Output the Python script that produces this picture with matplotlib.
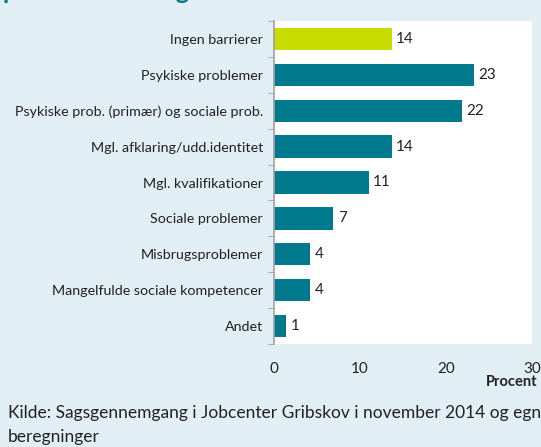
import numpy as np
import matplotlib.pyplot as plt
from matplotlib.ticker import FixedLocator, NullFormatter

# data
categories = ["Ingen barrierer", "Psykiske problemer",
              "Psykiske prob. (primær) og sociale prob.",
              "Mgl. afklaring/udd.identitet", "Mgl. kvalifikationer",
              "Sociale problemer", "Misbrugsproblemer",
              "Mangelfulde sociale kompetencer", "Andet"]
values = [13.7, 23.3, 21.9, 13.7, 11.0, 6.9, 4.2, 4.2, 1.4]
xticks = [0, 10, 20, 30]

bg = "#E1EEF3"
teal = "#007A8C"
lime = "#C8DC00"
plt.rcParams['font.family'] = ['Lato', 'DejaVu Sans']

fig = plt.figure(figsize=(5.41, 4.47), dpi=100, facecolor=bg)
ax = fig.add_axes([274/541, 103/447, 258/541, 323/447])
ax.set_facecolor("white")

y = np.arange(len(categories))
colors = [lime] + [teal]*(len(categories)-1)
ax.barh(y, values, height=0.62, color=colors)
for yi, v in zip(y, values):
    ax.text(v + 0.5, yi, f"{v:.0f}", va="center", ha="left", fontsize=11, color="#222222")

ax.set_xlim(0, 30)
ax.set_ylim(len(categories) - 0.5, -0.5)
ax.set_yticks(y)
ax.set_yticklabels(categories, fontsize=10.3)
ax.yaxis.set_minor_locator(FixedLocator(np.arange(-0.5, len(categories), 1)))
ax.yaxis.set_minor_formatter(NullFormatter())
ax.tick_params(axis="y", which="major", length=0, pad=8, colors="#222222")
ax.tick_params(axis="y", which="minor", length=4, color="#A0A0A0", direction="out")
ax.set_xticks(xticks)
ax.tick_params(axis="x", length=0, pad=13, labelsize=11, colors="#222222")
for s in ["top", "right", "bottom"]:
    ax.spines[s].set_visible(False)
ax.spines["left"].set_color("#A0A0A0")
ax.spines["left"].set_linewidth(1.2)

fig.text(537/541, 1 - 382/447, "Procent", ha="right", va="center",
         fontsize=10.5, fontweight="bold", color="#222222")
fig.text(8/541, 1 - 413/447, "Kilde: Sagsgennemgang i Jobcenter Gribskov i november 2014 og egne",
         ha="left", va="center", fontsize=12.5, color="#222222")
fig.text(8/541, 1 - 437/447, "beregninger", ha="left", va="center", fontsize=12.5, color="#222222")
# heading cut off at the top of the crop
fig.text(2/541, 1 + 1/447, "procentfordeling", ha="left", va="baseline",
         fontsize=18, fontweight="bold", color=teal)

fig.savefig("out.png", dpi=100, facecolor=bg)
